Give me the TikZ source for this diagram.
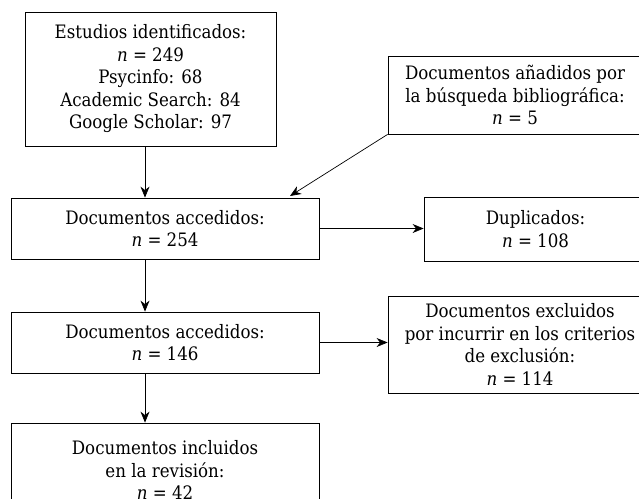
\documentclass[tikz,border=0pt]{standalone}
\usepackage{fontspec}
\setmainfont{DejaVu Serif Condensed}
\usetikzlibrary{arrows.meta}
\begin{document}
\begin{tikzpicture}[x=1pt,y=-1pt,
  box/.style={draw, line width=0.8pt, inner sep=0pt, align=center,
    font=\fontsize{18.5}{22.5}\selectfont},
  arr/.style={-{Stealth[length=11pt,width=9pt,inset=3.5pt]}, line width=0.7pt}]
\useasboundingbox (0,0) rectangle (639,498);
\clip (0,0) rectangle (639,498);
\node[box, minimum width=251pt, minimum height=134pt] (b1) at (150.5,79)
  {Estudios identificados:\\ \textit{n} = 249\\ Psycinfo: 68\\ Academic Search: 84\\ Google Scholar: 97};
\node[box, minimum width=254pt, minimum height=78pt] (b2) at (515,95)
  {Documentos añadidos por\\ la búsqueda bibliográfica:\\ \textit{n} = 5};
\node[box, minimum width=308pt, minimum height=61pt] (bA) at (165,228.5)
  {Documentos accedidos:\\ \textit{n} = 254};
\node[box, minimum width=223pt, minimum height=64pt] (dup) at (535.5,229)
  {Duplicados:\\ \textit{n} = 108};
\node[box, minimum width=308pt, minimum height=61pt] (bB) at (165,342.5)
  {Documentos accedidos:\\ \textit{n} = 146};
\node[box, minimum width=264pt, minimum height=97pt] (exc) at (520,344.5)
  {Documentos excluidos\\ por incurrir en los criterios\\ de exclusión:\\ \textit{n} = 114};
\node[box, minimum width=308pt, minimum height=94pt] (bC) at (165,470)
  {Documentos incluidos\\ en la revisión:\\ \textit{n} = 42};
\coordinate (vx) at (145,0);
\coordinate (dt) at (290,196);
\draw[arr] (b1.south -| vx) -- (bA.north -| vx);
\draw[arr] (b2.south west) -- (dt);
\draw[arr] (bA.east) -- (bA.east -| dup.west);
\draw[arr] (bA.south -| vx) -- (bB.north -| vx);
\draw[arr] (bB.east) -- (bB.east -| exc.west);
\draw[arr] (bB.south -| vx) -- (bC.north -| vx);
\end{tikzpicture}
\end{document}
